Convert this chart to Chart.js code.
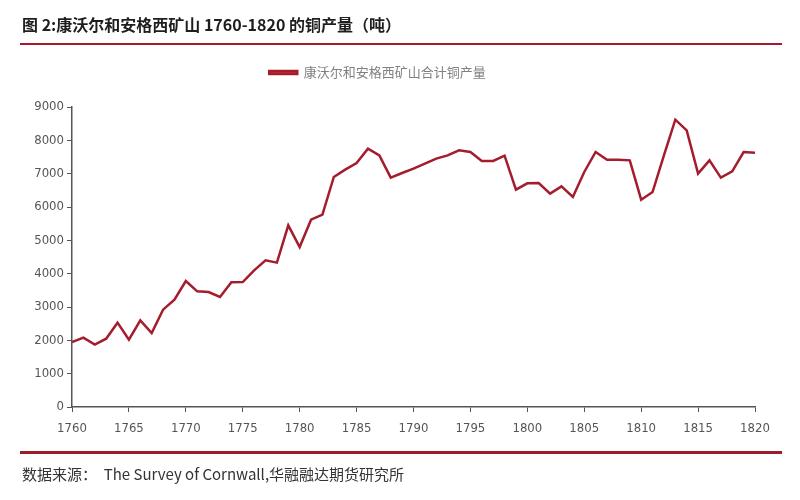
<!DOCTYPE html>
<html>
<head>
<meta charset="utf-8">
<script src="https://cdn.jsdelivr.net/npm/chart.js@4/dist/chart.umd.min.js"></script>
<style>
    body { margin: 0; background: #fff; }
    #marco { position: relative; width: 800px; height: 500px; overflow: hidden; }
    #titulo { position: absolute; left: 22px; top: 12px; font: bold 16px "Noto Sans CJK SC", sans-serif; color: #1e1e1e; white-space: nowrap; }
    .regla { position: absolute; left: 20px; width: 762px; background: #a8182a; }
    #fuente { position: absolute; left: 22px; top: 463px; font: 15px "Noto Sans CJK SC", sans-serif; color: #333; white-space: nowrap; }
</style>
</head>
<body>
<div id="marco">
    <canvas id="cobre"></canvas>
    <div id="titulo">图 2:康沃尔和安格西矿山 1760-1820 的铜产量（吨）</div>
    <div class="regla" style="top: 43px; height: 2px;"></div>
    <div class="regla" style="top: 451px; height: 3px; background: #9c1c2a;"></div>
    <div id="fuente">数据来源：&nbsp;&nbsp;The Survey of Cornwall,华融融达期货研究所</div>
</div>
<script>
// años y producción de cobre (toneladas)
const anios = [];
for (let a = 1760; a <= 1820; a++) anios.push(a);
const cobre = [
    1950, 2080, 1870, 2050, 2530, 2020, 2600, 2220, 2920, 3220,
    3780, 3470, 3450, 3300, 3740, 3750, 4100, 4400, 4330, 5450,
    4800, 5620, 5770, 6900, 7120, 7320, 7750, 7550, 6880, 7020,
    7150, 7300, 7450, 7550, 7700, 7650, 7380, 7380, 7540, 6520,
    6710, 6720, 6400, 6620, 6300, 7050, 7650, 7420, 7420, 7400,
    6220, 6450, 7550, 8620, 8300, 7000, 7400, 6880, 7070, 7650,
    7630
];
const serie = "康沃尔和安格西矿山合计铜产量";

const fuenteNum = { family: "'Liberation Sans Narrow', 'DejaVu Sans Condensed', sans-serif", size: 13 };

// deja más aire entre la leyenda y el área del gráfico
const espacioLeyenda = {
    id: "espacioLeyenda",
    beforeLayout(chart) {
        const ley = chart.legend;
        if (!ley || ley._parcheado) return;
        const fitOriginal = ley.fit.bind(ley);
        ley.fit = function () {
            fitOriginal();
            this.height += 18;
        };
        ley._parcheado = true;
    },
};

new Chart(document.getElementById("cobre"), {
    type: "line",
    data: {
        datasets: [{
            label: serie,
            data: anios.map((a, i) => ({ x: a, y: cobre[i] })),
            borderColor: "#a51c2c",
            backgroundColor: "#c0303a",
            borderWidth: 2.5,
            pointRadius: 0,
            tension: 0,
        }],
    },
    options: {
        responsive: true,
        maintainAspectRatio: false,
        animation: false,
        layout: { padding: { left: 0, right: 45, top: 39, bottom: 63 } },
        plugins: {
            tooltip: { enabled: false },
            legend: {
                labels: {
                    boxWidth: 28,
                    boxHeight: 3,
                    padding: 27,
                    color: "#808080",
                    font: { family: "'Noto Sans CJK SC', sans-serif", size: 13 },
                },
            },
        },
        scales: {
            x: {
                type: "linear",
                min: 1760,
                max: 1820,
                afterFit: (s) => { s.height = 30; },
                border: { color: "#555", width: 1.5 },
                grid: { drawOnChartArea: false, drawTicks: true, tickLength: 5, color: "#555" },
                ticks: { stepSize: 5, padding: 9, color: "#555", font: fuenteNum, callback: (v) => String(v) },
            },
            y: {
                min: 0,
                max: 9000,
                afterFit: (s) => { s.width = 72; },
                border: { color: "#555", width: 1.5 },
                grid: { drawOnChartArea: false, drawTicks: true, tickLength: 5, color: "#555" },
                ticks: { stepSize: 1000, padding: 3, color: "#555", font: fuenteNum, callback: (v) => String(v) },
            },
        },
    },
    plugins: [espacioLeyenda],
});
</script>
</body>
</html>
